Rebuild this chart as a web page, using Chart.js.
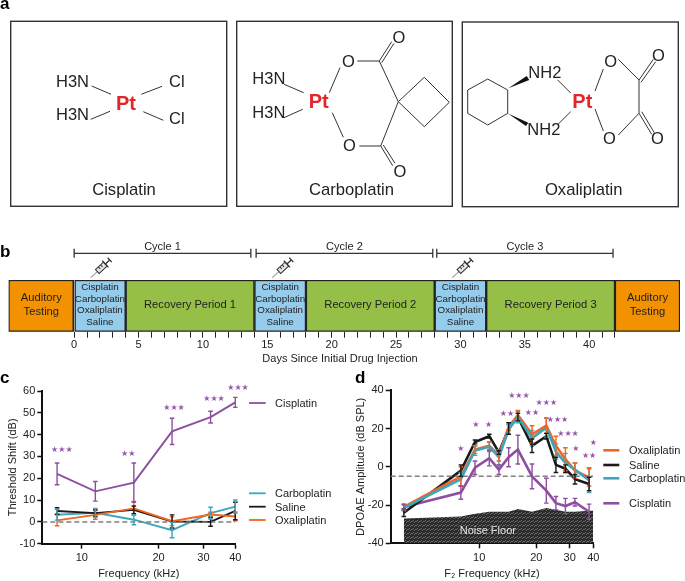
<!DOCTYPE html>
<html>
<head>
<meta charset="utf-8">
<title>Platinum drugs</title>
<script src="https://cdn.jsdelivr.net/npm/chart.js@4/dist/chart.umd.min.js"></script>
<style>
  html, body { margin: 0; background: #fff; }
  #page { position: relative; width: 685px; height: 581px; overflow: hidden; font-family: "Liberation Sans", Arial, sans-serif; }
  canvas { position: absolute; }
  svg { position: absolute; left: 0; top: 0; pointer-events: none; }
  svg text { font-family: "Liberation Sans", Arial, sans-serif; fill: #222; }
  .mol { font-size: 16.5px; fill: #222; }
  .pt { font-size: 20px; font-weight: bold; fill: #e3262a; }
  .name { font-size: 16.6px; text-anchor: middle; }
  .letter { font-size: 17px; font-weight: bold; fill: #000; }
  .leg { font-size: 11px; fill: #222; }
  .o { text-anchor: middle; dominant-baseline: central; }
  .bond { stroke: #333; stroke-width: 1; fill: none; }
</style>
</head>
<body>
<div id="page">
  <canvas id="chartB" style="left:0;top:235px" width="685" height="130"></canvas>
  <canvas id="chartC" style="left:0;top:375px" width="250" height="206"></canvas>
  <canvas id="chartD" style="left:340px;top:375px" width="265" height="206"></canvas>

  <svg width="685" height="581">
    <defs>
      <g id="syringe" fill="none" stroke="#333" stroke-width="1">
        <line x1="0" y1="0" x2="9" y2="0" stroke="#999"/>
        <rect x="9" y="-2.7" width="11" height="5.4" fill="#e4e4e4"/>
        <line x1="13" y1="-2.7" x2="13" y2="0"/>
        <line x1="16" y1="-2.7" x2="16" y2="0"/>
        <line x1="20" y1="-4.5" x2="20" y2="4.5" stroke-width="1.3"/>
        <line x1="20" y1="0" x2="26" y2="0" stroke-width="1.3"/>
        <line x1="26" y1="-3" x2="26" y2="3" stroke-width="1.3"/>
      </g>
    </defs>

    <text class="letter" x="0" y="9">a</text>
    <text class="letter" x="0" y="257">b</text>
    <text class="letter" x="0" y="383">c</text>
    <text class="letter" x="355" y="383" style="font-size:17px">d</text>

    <!-- cisplatin -->
    <rect x="10.7" y="21.3" width="216" height="185" fill="none" stroke="#333" stroke-width="1.4"/>
    <text class="mol" x="56" y="86.5">H3N</text>
    <text class="mol" x="56" y="120">H3N</text>
    <text class="mol" x="169" y="86.7">Cl</text>
    <text class="mol" x="169" y="124">Cl</text>
    <text class="pt" x="116" y="110">Pt</text>
    <line class="bond" x1="91.7" y1="86" x2="111" y2="94.3"/>
    <line class="bond" x1="90.7" y1="119.3" x2="110" y2="111.3"/>
    <line class="bond" x1="141.3" y1="94.3" x2="162" y2="86.3"/>
    <line class="bond" x1="143.3" y1="111.7" x2="163.3" y2="120.3"/>
    <text class="name" x="124" y="194.7">Cisplatin</text>

    <!-- carboplatin -->
    <rect x="236.7" y="21.3" width="215.6" height="185" fill="none" stroke="#333" stroke-width="1.4"/>
    <text class="mol" x="252.3" y="84.3">H3N</text>
    <text class="mol" x="252.3" y="117.7">H3N</text>
    <text class="pt" x="308.7" y="108.3">Pt</text>
    <line class="bond" x1="284" y1="84.3" x2="303.7" y2="92.7"/>
    <line class="bond" x1="284" y1="117.7" x2="302.7" y2="109.3"/>
    <line class="bond" x1="329.3" y1="92.7" x2="340" y2="67.7"/>
    <line class="bond" x1="332.3" y1="112.7" x2="343.3" y2="137.3"/>
    <text class="mol o" x="348.3" y="61">O</text>
    <text class="mol o" x="349.3" y="144.7">O</text>
    <text class="mol o" x="399" y="36.7">O</text>
    <text class="mol o" x="400" y="171">O</text>
    <line class="bond" x1="357.3" y1="61" x2="379.3" y2="61"/>
    <line class="bond" x1="359.3" y1="146" x2="380.7" y2="146"/>
    <line class="bond" x1="379.3" y1="61" x2="391.7" y2="41.7"/>
    <line class="bond" x1="381.7" y1="62.7" x2="394" y2="43.3"/>
    <line class="bond" x1="380.7" y1="146" x2="392.7" y2="165.7"/>
    <line class="bond" x1="383.3" y1="145" x2="395" y2="163.3"/>
    <line class="bond" x1="379.3" y1="61" x2="398.3" y2="101.7"/>
    <line class="bond" x1="380.7" y1="146" x2="398.3" y2="101.7"/>
    <polygon class="bond" points="398.3,101.7 424.3,77.3 449.3,102.3 424.3,126.7"/>
    <text class="name" x="351.5" y="194.7">Carboplatin</text>

    <!-- oxaliplatin -->
    <rect x="462.3" y="22" width="216" height="184.7" fill="none" stroke="#333" stroke-width="1.4"/>
    <polygon class="bond" points="467.7,90 487.7,79 507.7,90 507.7,113.3 487.7,125 467.7,113.3"/>
    <polygon fill="#111" points="508.3,88.3 526.7,76 529.3,80"/>
    <polygon fill="#111" points="507.7,113.3 528.3,122.7 526,126"/>
    <text class="mol" x="528.3" y="77.7">NH2</text>
    <text class="mol" x="527.3" y="135">NH2</text>
    <text class="pt" x="572.3" y="108.3">Pt</text>
    <line class="bond" x1="557.7" y1="80" x2="570.7" y2="93"/>
    <line class="bond" x1="558.3" y1="124" x2="570.7" y2="111.7"/>
    <line class="bond" x1="595" y1="91" x2="603.3" y2="69"/>
    <line class="bond" x1="595" y1="109" x2="603.3" y2="131"/>
    <text class="mol o" x="610.7" y="61">O</text>
    <text class="mol o" x="609.3" y="137.7">O</text>
    <text class="mol o" x="658.3" y="55">O</text>
    <text class="mol o" x="657.3" y="138.3">O</text>
    <line class="bond" x1="618.3" y1="59.3" x2="639" y2="80"/>
    <line class="bond" x1="618.3" y1="135" x2="639" y2="113.3"/>
    <line class="bond" x1="639" y1="80" x2="639" y2="113.3"/>
    <line class="bond" x1="639" y1="80" x2="653.3" y2="59.3"/>
    <line class="bond" x1="641" y1="82.3" x2="655.7" y2="61.7"/>
    <line class="bond" x1="639" y1="113.3" x2="651.7" y2="134.3"/>
    <line class="bond" x1="641.7" y1="111.7" x2="654.3" y2="132.7"/>
    <text class="name" x="583.7" y="194.7">Oxaliplatin</text>

    <use href="#syringe" transform="translate(90.7 277.7) rotate(-43)"/>
    <use href="#syringe" transform="translate(272.3 277.7) rotate(-43)"/>
    <use href="#syringe" transform="translate(452.3 277.7) rotate(-43)"/>

    <text x="340" y="362" text-anchor="middle" style="font-size:11px">Days Since Initial Drug Injection</text>

    <!-- legend c -->
    <g stroke-width="1.8">
      <line x1="249" y1="403" x2="265.7" y2="403" stroke="#8e4fa0"/>
      <line x1="249" y1="493.3" x2="265.7" y2="493.3" stroke="#3ba6bd"/>
      <line x1="249" y1="506.7" x2="265.7" y2="506.7" stroke="#1a1a1a"/>
      <line x1="249" y1="520" x2="265.7" y2="520" stroke="#f26522"/>
    </g>
    <text class="leg" x="275" y="407">Cisplatin</text>
    <text class="leg" x="275" y="497.3">Carboplatin</text>
    <text class="leg" x="275" y="510.7">Saline</text>
    <text class="leg" x="275" y="524">Oxaliplatin</text>

    <!-- legend d -->
    <g stroke-width="2.6">
      <line x1="603.3" y1="450.3" x2="619.3" y2="450.3" stroke="#f26522"/>
      <line x1="603.3" y1="465" x2="619.3" y2="465" stroke="#1a1a1a"/>
      <line x1="603.3" y1="478.3" x2="619.3" y2="478.3" stroke="#3ba6bd"/>
      <line x1="603.3" y1="503.3" x2="619.3" y2="503.3" stroke="#8e4fa0"/>
    </g>
    <text class="leg" x="629" y="454.3">Oxaliplatin</text>
    <text class="leg" x="629" y="469">Saline</text>
    <text class="leg" x="629" y="482.3">Carboplatin</text>
    <text class="leg" x="629" y="507.3">Cisplatin</text>
  </svg>
</div>

<script>
// panel b
var segmentStarts = [-5.1, 0, 4, 14, 18, 28, 32, 42];
var segmentEnds = [0, 4, 14, 18, 28, 32, 42, 47.05];
var drugLines = ['Cisplatin', 'Carboplatin', 'Oxaliplatin', 'Saline'];
var segmentNames = [['Auditory', 'Testing'], drugLines, ['Recovery Period 1'], drugLines, ['Recovery Period 2'], drugLines, ['Recovery Period 3'], ['Auditory', 'Testing']];
var segmentColors = ['#f39200', '#95cbeb', '#96bf48', '#95cbeb', '#96bf48', '#95cbeb', '#96bf48', '#f39200'];
var cycleNames = ['Cycle 1', 'Cycle 2', 'Cycle 3'];
var cycleStarts = [0, 14.13, 28.16];
var cycleEnds = [13.72, 27.85, 41.85];
var dayTicks = [];
for (var d = 0; d <= 42; d++) dayTicks.push(d);

// panel c
var freqC = [8, 11.3, 16, 22.6, 32, 40];
var cisplatinC = [22, 14, 18, 41.5, 48, 54.8];
var cisplatinErrC = [5, 4.5, 9, 6, 2.7, 2.3];
var carboplatinC = [3.3, 4.2, 1, -3.8, 4, 7];
var carboplatinErrC = [2.5, 2, 2.3, 3.5, 2.7, 3];
var salineC = [5, 4, 5.5, 0.2, 0, 5];
var salineErrC = [1.5, 1.5, 1.8, 3, 2, 4];
var oxaliplatinC = [0.7, 3.2, 6.2, 0.3, 3.4, 2.5];
var oxaliplatinErrC = [2.5, 2, 3.2, 2, 1, 2];
var starXC = [8.35, 15.2, 23, 33, 41];
var starYC = [33.6, 31.4, 52.8, 56.9, 62];
var starTextC = ['\u2605\u2605\u2605', '\u2605\u2605', '\u2605\u2605\u2605', '\u2605\u2605\u2605', '\u2605\u2605\u2605'];

// panel d
var freqD = [4, 8, 9.5, 11.3, 12.7, 14.3, 16, 19, 22.6, 25.4, 28.5, 32, 38];
var oxaliplatinD = [-21, -5, 9, 11, 6, 21, 27, 17, 21.5, 11, 4, -2, -5.5];
var oxaliplatinErrD = [1.5, 5, 2, 2, 3, 2, 2.5, 4.5, 4, 5, 6, 4, 4.5];
var salineD = [-24, -2, 13, 16, 7.5, 20, 26, 11, 16, 1, -1, -6.5, -9];
var salineErrD = [2, 3, 1, 1, 1, 3, 2, 3.5, 1.5, 4, 2, 2.5, 3.5];
var carboplatinD = [-21.5, -6.5, 8.5, 10.5, 5, 19.5, 26, 15, 20.5, 8, 2, -1.5, -7];
var carboplatinErrD = [1.5, 3.5, 2.5, 2.5, 4, 2.5, 3, 4, 5, 4, 5, 3.5, 6.5];
var cisplatinD = [-21, -13.5, -0.5, 4.5, -1.5, 5, 9, -5, -12.5, -19, -20.5, -18.5, -23.5];
var cisplatinErrD = [1.5, 3.5, 3.5, 4, 2.5, 5, 7.5, 6.5, 6.5, 3.5, 4, 2, 4];
var noiseX = [4, 8, 9.5, 11.3, 12.7, 14.3, 16, 19, 22.6, 25.4, 28.5, 32, 38, 40];
var noiseFloor = [-27, -26, -24.5, -23.5, -23.5, -23.5, -22, -23.5, -21.5, -22.5, -23.5, -23.5, -23, -23];
var starXD = [8, 9.6, 11.2, 14, 16.2, 19, 22.6, 25.9, 29.4, 32.4, 38, 40];
var starYD = [9.7, 22.2, 22.2, 28.3, 37.6, 28.7, 34.1, 25, 17.7, 9.9, 6.4, 12.8];
var starTextD = ['\u2605', '\u2605', '\u2605', '\u2605\u2605', '\u2605\u2605\u2605', '\u2605\u2605', '\u2605\u2605\u2605', '\u2605\u2605\u2605', '\u2605\u2605\u2605', '\u2605', '\u2605\u2605', '\u2605'];

var kHzTicks = [10, 20, 30, 40];
var FONT = '"Liberation Sans", Arial, sans-serif';
var PURPLE = '#8e4fa0', TEAL = '#3ba6bd', BLACK = '#1a1a1a', ORANGE = '#f26522', GREY = '#7f7f7f';

Chart.defaults.font.family = FONT;
Chart.defaults.font.size = 11;
Chart.defaults.color = '#222';
Chart.defaults.animation = false;
Chart.defaults.responsive = false;
Chart.defaults.plugins.legend.display = false;
Chart.defaults.plugins.tooltip.enabled = false;

function points(xs, ys) {
  return xs.map(function (x, i) { return { x: x, y: ys[i] }; });
}

function line(xs, ys, errs, color, width) {
  return { data: points(xs, ys), errs: errs, showLine: true, borderColor: color, backgroundColor: color, borderWidth: width, pointRadius: 0, tension: 0 };
}

function dashed(xs, ys) {
  return { data: points(xs, ys), showLine: true, borderColor: GREY, borderWidth: 1.5, borderDash: [5, 3], pointRadius: 0 };
}

// error bars with caps, read from ds.errs
var errorBars = {
  id: 'errorBars',
  afterDatasetsDraw: function (chart) {
    var ctx = chart.ctx, sy = chart.scales.y, sx = chart.scales.x;
    ctx.save();
    chart.data.datasets.forEach(function (ds) {
      if (!ds.errs) return;
      ctx.strokeStyle = ds.borderColor;
      ctx.lineWidth = 1.4;
      ds.data.forEach(function (p, i) {
        var x = sx.getPixelForValue(p.x);
        var top = sy.getPixelForValue(p.y + ds.errs[i]);
        var bot = sy.getPixelForValue(p.y - ds.errs[i]);
        ctx.beginPath();
        ctx.moveTo(x, top); ctx.lineTo(x, bot);
        ctx.moveTo(x - 2.3, top); ctx.lineTo(x + 2.3, top);
        ctx.moveTo(x - 2.3, bot); ctx.lineTo(x + 2.3, bot);
        ctx.stroke();
      });
    });
    ctx.restore();
  }
};

function stars(xs, ys, marks) {
  return {
    id: 'stars',
    afterDraw: function (chart) {
      var ctx = chart.ctx;
      ctx.save();
      ctx.font = '8px "DejaVu Sans"';
      ctx.fillStyle = '#9659ab';
      ctx.textAlign = 'center';
      ctx.textBaseline = 'alphabetic';
      marks.forEach(function (m, i) {
        ctx.fillText(m, chart.scales.x.getPixelForValue(xs[i]), chart.scales.y.getPixelForValue(ys[i]) + 3);
      });
      ctx.restore();
    }
  };
}

function freqAxis(title, min, axisHeight) {
  return {
    type: 'logarithmic',
    min: min,
    max: 40,
    afterBuildTicks: function (s) { s.ticks = kHzTicks.map(function (v) { return { value: v }; }); },
    afterFit: function (s) { s.height = axisHeight; },
    grid: { drawOnChartArea: false, tickLength: 5, tickWidth: 1.5, tickColor: '#111' },
    border: { color: '#111', width: 2 },
    ticks: { autoSkip: false, maxRotation: 0, padding: 3, callback: function (v) { return String(v); } },
    title: { display: true, text: title, font: { size: 11 }, padding: { top: 0, bottom: 0 } }
  };
}

function ampAxis(title, min, max, step, width, titlePad) {
  return {
    min: min,
    max: max,
    afterFit: function (s) { s.width = width; },
    grid: { drawOnChartArea: false, tickLength: 5, tickWidth: 1.5, tickColor: '#111' },
    border: { color: '#111', width: 2 },
    ticks: { stepSize: step, padding: 2 },
    title: { display: true, text: title, font: { size: 11 }, padding: { top: titlePad, bottom: 0 } }
  };
}

// timeline, panel b
new Chart(document.getElementById('chartB'), {
  type: 'bar',
  data: {
    labels: ['Schedule'],
    datasets: segmentStarts.map(function (s, i) {
      return {
        data: [[s, segmentEnds[i]]],
        backgroundColor: segmentColors[i],
        borderColor: '#222',
        borderWidth: 1.5,
        borderSkipped: false,
        grouped: false,
        barPercentage: 1,
        categoryPercentage: 1
      };
    })
  },
  options: {
    indexAxis: 'y',
    layout: { padding: { left: 8.5, right: 5, top: 45, bottom: 0 } },
    scales: {
      y: { display: false },
      x: {
        type: 'linear',
        min: -5.1,
        max: 47.05,
        afterBuildTicks: function (s) { s.ticks = dayTicks.map(function (v) { return { value: v }; }); },
        afterFit: function (s) { s.height = 33.3; },
        grid: { drawOnChartArea: false, tickLength: 6, tickWidth: 1, tickColor: '#222' },
        border: { display: false },
        ticks: { autoSkip: false, maxRotation: 0, padding: 1, callback: function (v) { return v % 5 === 0 ? String(v) : ''; } }
      }
    }
  },
  plugins: [{
    id: 'timelineText',
    afterDraw: function (chart) {
      var ctx = chart.ctx, sx = chart.scales.x, area = chart.chartArea;
      var mid = (area.top + area.bottom) / 2;
      ctx.save();
      ctx.fillStyle = '#222';
      ctx.textAlign = 'center';
      ctx.textBaseline = 'middle';
      segmentNames.forEach(function (lines, i) {
        var x = sx.getPixelForValue((segmentStarts[i] + segmentEnds[i]) / 2);
        var small = lines.length === 4;
        var lh = small ? 11.7 : 13.3;
        ctx.font = (small ? 9.8 : 11.2) + 'px ' + FONT;
        lines.forEach(function (t, j) {
          ctx.fillText(t, x, mid - 1 + (j - (lines.length - 1) / 2) * lh);
        });
      });
      // cycle brackets
      var by = 18.3;
      ctx.strokeStyle = '#333';
      ctx.lineWidth = 1.3;
      ctx.font = '11px ' + FONT;
      cycleNames.forEach(function (name, i) {
        var a = sx.getPixelForValue(cycleStarts[i]), b = sx.getPixelForValue(cycleEnds[i]);
        ctx.beginPath();
        ctx.moveTo(a, by); ctx.lineTo(b, by);
        ctx.moveTo(a, by - 4.5); ctx.lineTo(a, by + 4.5);
        ctx.moveTo(b, by - 4.5); ctx.lineTo(b, by + 4.5);
        ctx.stroke();
        ctx.fillText(name, (a + b) / 2, by - 6);
      });
      ctx.restore();
    }
  }]
});

// threshold shift, panel c
new Chart(document.getElementById('chartC'), {
  type: 'scatter',
  data: {
    datasets: [
      dashed([7, 40], [0, 0]),
      line(freqC, oxaliplatinC, oxaliplatinErrC, ORANGE, 1.9),
      line(freqC, salineC, salineErrC, BLACK, 1.9),
      line(freqC, carboplatinC, carboplatinErrC, TEAL, 1.9),
      line(freqC, cisplatinC, cisplatinErrC, PURPLE, 1.9)
    ]
  },
  options: {
    layout: { padding: { left: 0, right: 14.7, top: 16, bottom: 0 } },
    scales: {
      x: freqAxis('Frequency (kHz)', 7, 37.3),
      y: ampAxis('Threshold Shift (dB)', -10, 60, 10, 42.3, 6)
    }
  },
  plugins: [errorBars, stars(starXC, starYC, starTextC)]
});

// hatch for the noise floor
function hatch() {
  var c = document.createElement('canvas');
  c.width = 4; c.height = 4;
  var g = c.getContext('2d');
  g.fillStyle = '#2a2a2a';
  g.fillRect(0, 0, 4, 4);
  g.strokeStyle = '#7c7c7c';
  g.lineWidth = 0.8;
  g.beginPath();
  g.moveTo(0, 3); g.lineTo(2, 1); g.moveTo(2, 4); g.lineTo(4, 2);
  g.stroke();
  return c;
}

var ctxD = document.getElementById('chartD').getContext('2d');
var noiseData = {
  data: points(noiseX, noiseFloor),
  showLine: true,
  borderWidth: 0,
  borderColor: 'rgba(0,0,0,0)',
  pointRadius: 0,
  backgroundColor: ctxD.createPattern(hatch(), 'repeat'),
  fill: { value: -40 }
};

// DPOAE amplitude, panel d
new Chart(ctxD, {
  type: 'scatter',
  data: {
    datasets: [
      dashed([3.41, 40], [-5, -5]),
      line(freqD, carboplatinD, carboplatinErrD, TEAL, 2.6),
      line(freqD, oxaliplatinD, oxaliplatinErrD, ORANGE, 2.6),
      line(freqD, salineD, salineErrD, BLACK, 2.6),
      line(freqD, cisplatinD, cisplatinErrD, PURPLE, 2.6),
      noiseData
    ]
  },
  options: {
    layout: { padding: { left: 0, right: 11.7, top: 15.3, bottom: 0 } },
    scales: {
      x: freqAxis('F\u2082 Frequency (kHz)', 3.41, 37.7),
      y: ampAxis('DPOAE Amplitude (dB SPL)', -40, 40, 20, 50.7, 14)
    }
  },
  plugins: [errorBars, stars(starXD, starYD, starTextD), {
    id: 'noiseLabel',
    afterDraw: function (chart) {
      var ctx = chart.ctx;
      ctx.save();
      ctx.font = '11px ' + FONT;
      ctx.fillStyle = '#e2e2e2';
      ctx.textAlign = 'center';
      ctx.textBaseline = 'middle';
      ctx.fillText('Noise Floor', chart.scales.x.getPixelForValue(11.1), chart.scales.y.getPixelForValue(-33.6));
      ctx.restore();
    }
  }]
});
</script>
</body>
</html>
